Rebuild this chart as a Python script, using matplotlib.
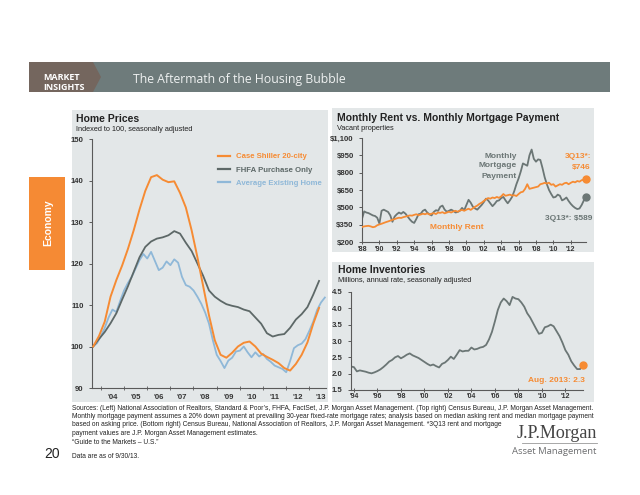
import numpy as np
import matplotlib
matplotlib.use("Agg")
import matplotlib.pyplot as plt
from matplotlib.patches import Rectangle, Polygon

W, H = 640, 495

# -------------------------
# Data
# -------------------------
# Home prices, indexed to 100
hp_start, hp_step = 2003.67, 0.25
case_shiller = [100, 102.5, 106, 112, 116, 119.5, 123.5, 128, 133, 137.5,
                140.8, 141.3, 140.2, 139.6, 139.8, 137, 133.5, 128, 121.5, 114.5,
                107.5, 101.5, 98, 97.3, 98.5, 100, 100.9, 101.2, 100, 98.3,
                97.5, 96.8, 96, 94.8, 94.2, 95.8, 98, 101, 105.5, 109.3]
fhfa = [100, 101.8, 103.5, 105.6, 108, 111.3, 114.5, 118, 121.5, 124,
        125.3, 126, 126.3, 126.8, 127.8, 127.2, 125, 123, 120, 117,
        113.5, 112, 111, 110.2, 109.8, 109.5, 108.9, 108.5, 107, 105.5,
        103.2, 102.4, 102.8, 103, 104.5, 106.5, 107.8, 109.5, 112.5, 115.8]
avg_start, avg_step = 2003.67, 1 / 6
avg_existing = [100, 100.8, 102.5, 104.5, 107, 108.9, 108.3, 111, 113.5, 115.3,
                116.8, 118.8, 120.8, 122.3, 121.2, 122.8, 120.6, 118.4, 119.0, 120.5,
                119.6, 121.0, 120.2, 116.8, 114.8, 114.4, 113.5, 112.0, 110.3, 108.2,
                105.5, 101.5, 98, 96.5, 94.8, 96.6, 97.3, 98.8, 99.0, 100.0,
                98.6, 97.4, 98.6, 97.6, 98.2, 97.0, 96.3, 95.4, 95.0, 94.6,
                93.8, 96.5, 99.6, 100.3, 100.7, 101.8, 103.8, 106.0, 108.8, 110.6,
                111.8]
hp_labels = ["'04", "'05", "'06", "'07", "'08", "'09", "'10", "'11", "'12", "'13"]

# Monthly rent vs mortgage payment, quarterly from 1988
rm_start, rm_step = 1988.0, 0.25
rent = [330, 335, 338, 340, 335, 328, 332, 345, 352, 358, 365, 372, 378, 385, 392, 398,
        405, 410, 408, 415, 420, 425, 430, 428, 435, 440, 432, 438, 445, 440, 448, 438,
        445, 450, 442, 455, 452, 458, 448, 455, 462, 455, 465, 470, 462, 472, 478, 470,
        480, 488, 478, 492, 505, 515, 530, 540, 555, 570, 580, 575, 585, 580, 590, 582,
        595, 615, 600, 605, 610, 602, 605, 598, 615, 630, 635, 660, 700, 660, 665, 670,
        675, 680, 700, 705, 712, 706, 713, 695, 700, 680, 690, 700, 695, 708, 713, 700,
        712, 722, 716, 728, 722, 735, 738, 746]
mortgage = [400, 465, 455, 450, 440, 430, 425, 410, 360, 470, 480, 470, 460, 430, 375, 420,
            440, 455, 445, 460, 445, 420, 395, 375, 365, 400, 440, 445, 470, 480, 455, 440,
            430, 460, 475, 470, 505, 515, 480, 462, 470, 480, 470, 455, 460, 470, 495, 475,
            520, 565, 540, 505, 490, 480, 500, 520, 545, 575, 560, 535, 510, 530, 555, 560,
            580, 590, 560, 535, 560, 590, 640, 700, 750, 810, 880, 870, 860, 950, 1000, 920,
            895, 915, 910, 840, 760, 700, 650, 615, 585, 590, 610, 600, 560, 570, 585, 555,
            530, 510, 495, 485, 490, 520, 560, 589]
rm_ticks = [200, 350, 500, 650, 800, 950, 1100]
rm_tick_labels = ["$200", "$350", "$500", "$650", "$800", "$950", "$1,100"]
rm_years = list(range(1988, 2013, 2))

# Home inventories, millions, quarterly
inv_start, inv_step = 1993.75, 0.25
inventory = [2.22, 2.20, 2.07, 2.10, 2.08, 2.06, 2.03, 2.01, 2.04, 2.08,
             2.13, 2.20, 2.28, 2.37, 2.42, 2.50, 2.54, 2.47, 2.52, 2.58,
             2.62, 2.56, 2.52, 2.48, 2.42, 2.36, 2.30, 2.25, 2.28, 2.23,
             2.19, 2.30, 2.34, 2.42, 2.52, 2.45, 2.58, 2.72, 2.68, 2.70,
             2.70, 2.80, 2.74, 2.76, 2.80, 2.82, 2.88, 3.05, 3.28, 3.60,
             3.95, 4.18, 4.30, 4.22, 4.10, 4.35, 4.30, 4.28, 4.18, 4.05,
             3.85, 3.72, 3.55, 3.38, 3.22, 3.25, 3.42, 3.45, 3.50, 3.45,
             3.30, 3.15, 2.95, 2.72, 2.58, 2.38, 2.25, 2.14, 2.14, 2.28]
inv_ticks = [1.5, 2.0, 2.5, 3.0, 3.5, 4.0, 4.5]
inv_years = list(range(1994, 2013, 2))

ORANGE = "#f68b33"
DGREY = "#5d6867"
MGREY = "#6b7675"
BLUE = "#8fb8d8"
PANEL = "#e3e7e8"
AXIS = "#5a5a5a"
TXT = "#222222"

plt.rcParams["font.family"] = ["Liberation Sans", "DejaVu Sans"]


def fx(x):
    return x / W


def fy(y):
    return 1 - y / H


def ftext(fig, x, y, s, **kw):
    kw.setdefault("va", "center")
    kw.setdefault("ha", "left")
    return fig.text(fx(x), fy(y), s, **kw)


def frect(fig, x0, y0, x1, y1, color):
    fig.add_artist(Rectangle((fx(x0), fy(y1)), fx(x1) - fx(x0), (y1 - y0) / H,
                             transform=fig.transFigure, facecolor=color,
                             edgecolor="none", zorder=0))


def axes_px(fig, x0, y0, x1, y1):
    ax = fig.add_axes([fx(x0), fy(y1), (x1 - x0) / W, (y1 - y0) / H])
    ax.set_facecolor("none")
    for s in ("top", "right"):
        ax.spines[s].set_visible(False)
    for s in ("left", "bottom"):
        ax.spines[s].set_color(AXIS)
        ax.spines[s].set_linewidth(0.8)
    ax.tick_params(axis="both", labelsize=5.6, colors=AXIS, labelcolor="#333333",
                   length=2.5, width=0.7)
    return ax


def bold_ticks(ax):
    for lab in ax.get_yticklabels() + ax.get_xticklabels():
        lab.set_fontweight("bold")


def xs(start, step, vals):
    return start + step * np.arange(len(vals))


fig = plt.figure(figsize=(W / 100, H / 100), dpi=100)

# -------------------------
# Header and side tab
# -------------------------
frect(fig, 29, 62, 610, 92, "#6e7b7b")
fig.add_artist(Polygon([(fx(29), fy(62)), (fx(93), fy(62)), (fx(101), fy(77)),
                        (fx(93), fy(92)), (fx(29), fy(92))], closed=True,
                       transform=fig.transFigure, facecolor="#74665e",
                       edgecolor="none", zorder=1))
ftext(fig, 43, 77, "MARKET", color="white", fontsize=6.5, fontweight="bold",
      family=["Open Sans", "DejaVu Sans"], zorder=2)
ftext(fig, 43, 87.5, "INSIGHTS", color="white", fontsize=6.5, fontweight="bold",
      family=["Open Sans", "DejaVu Sans"], zorder=2)
ftext(fig, 133, 79, "The Aftermath of the Housing Bubble", color="#eef1f1",
      fontsize=8.8, family=["Open Sans", "DejaVu Sans"], zorder=2)

frect(fig, 29, 177, 65, 270, "#f58a34")
ftext(fig, 48, 223, "Economy", color="white", fontsize=7.5, fontweight="bold",
      rotation=90, ha="center")

# panel backgrounds
frect(fig, 72, 110, 328, 402, PANEL)
frect(fig, 332, 108, 594, 252, PANEL)
frect(fig, 332, 262, 594, 402, PANEL)

# -------------------------
# Home prices
# -------------------------
ftext(fig, 76, 119, "Home Prices", fontsize=7.5, fontweight="bold", color=TXT)
ftext(fig, 76, 129.5, "Indexed to 100, seasonally adjusted", fontsize=5.3, color=TXT)

ax1 = axes_px(fig, 92, 139, 326, 388)
ax1.plot(xs(avg_start, avg_step, avg_existing), avg_existing, color=BLUE, lw=1.3,
         label="Average Existing Home", zorder=2)
ax1.plot(xs(hp_start, hp_step, fhfa), fhfa, color=DGREY, lw=1.3,
         label="FHFA Purchase Only", zorder=3)
ax1.plot(xs(hp_start, hp_step, case_shiller), case_shiller, color=ORANGE, lw=1.4,
         label="Case Shiller 20-city", zorder=4)
ax1.set_xlim(2003.62, 2013.72)
ax1.set_ylim(90, 150)
ax1.set_yticks(range(90, 151, 10))
ax1.set_xticks(np.arange(2004, 2014) + 0.5)
ax1.set_xticklabels(hp_labels)
ax1.set_xticks(np.arange(2004, 2014), minor=True)
ax1.tick_params(axis="x", which="major", length=0, pad=4)
ax1.tick_params(axis="x", which="minor", length=3, direction="inout", colors=AXIS)
bold_ticks(ax1)
h, l = ax1.get_legend_handles_labels()
leg = ax1.legend(h[::-1], l[::-1], loc="upper left", frameon=False,
                 bbox_to_anchor=(fx(211), fy(146)), bbox_transform=fig.transFigure,
                 prop={"size": 5.6, "weight": "bold"}, labelcolor="linecolor",
                 handlelength=1.6, handletextpad=0.7, labelspacing=0.75)
for line in leg.get_lines():
    line.set_linewidth(1.6)

# -------------------------
# Rent vs mortgage
# -------------------------
ftext(fig, 337, 118, "Monthly Rent vs. Monthly Mortgage Payment", fontsize=7.5,
      fontweight="bold", color=TXT)
ftext(fig, 337, 129, "Vacant properties", fontsize=5.3, color=TXT)

ax2 = axes_px(fig, 362, 138, 586, 242)
t_rm = xs(rm_start, rm_step, rent)
ax2.plot(t_rm, mortgage, color=MGREY, lw=1.3, zorder=2)
ax2.plot(t_rm, rent, color=ORANGE, lw=1.3, zorder=3)
ax2.plot(t_rm[-1], mortgage[-1], "o", color=MGREY, ms=5, zorder=4, clip_on=False)
ax2.plot(t_rm[-1], rent[-1], "o", color=ORANGE, ms=5, zorder=4, clip_on=False)
ax2.set_xlim(1988, 2013.75)
ax2.set_ylim(200, 1100)
ax2.set_yticks(rm_ticks)
ax2.set_yticklabels(rm_tick_labels)
ax2.set_xticks(rm_years)
ax2.set_xticklabels(["'%02d" % (y % 100) for y in rm_years])
ax2.tick_params(axis="x", direction="inout", length=3, labelsize=5, pad=1.5)
bold_ticks(ax2)

ftext(fig, 517, 156, "Monthly", fontsize=6, fontweight="bold", color=MGREY, ha="right")
ftext(fig, 517, 166, "Mortgage", fontsize=6, fontweight="bold", color=MGREY, ha="right")
ftext(fig, 517, 176, "Payment", fontsize=6, fontweight="bold", color=MGREY, ha="right")
ftext(fig, 591, 157, "3Q13*:", fontsize=6, fontweight="bold", color=ORANGE, ha="right")
ftext(fig, 591, 167, "$746", fontsize=6, fontweight="bold", color=ORANGE, ha="right")
ftext(fig, 592, 218, "3Q13*: $589", fontsize=6, fontweight="bold", color=MGREY, ha="right")
ftext(fig, 430, 227, "Monthly Rent", fontsize=6, fontweight="bold", color=ORANGE)

# -------------------------
# Home inventories
# -------------------------
ftext(fig, 338, 270, "Home Inventories", fontsize=7.5, fontweight="bold", color=TXT)
ftext(fig, 338, 281, "Millions, annual rate, seasonally adjusted", fontsize=5.3, color=TXT)

ax3 = axes_px(fig, 351, 292, 583, 390)
t_inv = xs(inv_start, inv_step, inventory)
ax3.plot(t_inv, inventory, color=MGREY, lw=1.3, zorder=2)
ax3.plot(t_inv[-1], inventory[-1], "o", color=ORANGE, ms=5, zorder=3, clip_on=False)
ax3.set_xlim(1993.75, t_inv[-1])
ax3.set_ylim(1.5, 4.5)
ax3.set_yticks(inv_ticks)
ax3.set_yticklabels(["%.1f" % v for v in inv_ticks])
ax3.set_xticks(inv_years)
ax3.set_xticklabels(["'%02d" % (y % 100) for y in inv_years])
ax3.tick_params(axis="x", direction="inout", length=3, labelsize=5, pad=1)
bold_ticks(ax3)
ftext(fig, 585, 380, "Aug. 2013: 2.3", fontsize=6, fontweight="bold", color=ORANGE, ha="right")

# -------------------------
# Footer
# -------------------------
footer = [
    "Sources: (Left) National Association of Realtors, Standard & Poor\u2019s, FHFA, FactSet, "
    "J.P. Morgan Asset Management. (Top right) Census Bureau, J.P. Morgan Asset Management.",
    "Monthly mortgage payment assumes a 20% down payment at prevailing 30-year fixed-rate "
    "mortgage rates; analysis based on median asking rent and median mortgage payment",
    "based on asking price. (Bottom right) Census Bureau, National Association of Realtors, "
    "J.P. Morgan Asset Management. *3Q13 rent and mortgage",
    "payment values are J.P. Morgan Asset Management estimates.",
    "\u201cGuide to the Markets \u2013 U.S.\u201d",
]
for i, line in enumerate(footer):
    ftext(fig, 72, 408 + i * 8.5, line, fontsize=4.8, color=TXT)
ftext(fig, 72, 456, "Data are as of 9/30/13.", fontsize=4.8, color=TXT)
ftext(fig, 44, 454, "20", fontsize=10, color=TXT)

ftext(fig, 597, 433, "J.P.Morgan", fontsize=13, color="#444444", ha="right",
      family=["Liberation Serif", "DejaVu Serif"])
fig.add_artist(plt.Line2D([fx(522), fx(597)], [fy(443), fy(443)], color="#999999",
                          lw=0.6, transform=fig.transFigure))
ftext(fig, 596, 451, "Asset Management", fontsize=6.8, color="#6d6e70", ha="right",
      family=["Open Sans", "DejaVu Sans"])

fig.savefig("out.png", dpi=100)
